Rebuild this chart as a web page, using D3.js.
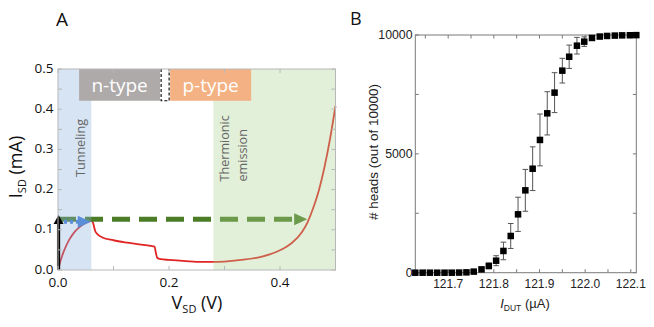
<!DOCTYPE html>
<html>
<head>
<meta charset="utf-8">
<script src="https://cdn.jsdelivr.net/npm/d3@7"></script>
<style>
  body { margin: 0; background: #fff; }
  svg { display: block; }
</style>
</head>
<body>
<script>
// panel A: I-V curve of the device
const curveV = [0, 0.005, 0.01, 0.02, 0.03, 0.04, 0.05, 0.06, 0.063, 0.067, 0.072, 0.08, 0.1, 0.125, 0.15, 0.174, 0.176, 0.179, 0.185, 0.2, 0.23, 0.26, 0.28, 0.3, 0.33, 0.36, 0.38, 0.4, 0.42, 0.44, 0.45, 0.46, 0.47, 0.48, 0.49, 0.5];
const curveI = [0, 0.025, 0.045, 0.075, 0.095, 0.108, 0.117, 0.122, 0.118, 0.097, 0.088, 0.081, 0.074, 0.068, 0.063, 0.058, 0.045, 0.03, 0.027, 0.025, 0.022, 0.02, 0.02, 0.021, 0.025, 0.031, 0.038, 0.049, 0.066, 0.095, 0.12, 0.155, 0.198, 0.255, 0.325, 0.408];

const regionStart = [0, 0.28];
const regionEnd = [0.06, 0.5];
const regionFill = ["#8ab2dd", "#acd192"];
const regionLabel = [["Tunneling"], ["Thermionic", "emission"]];

const typeLabels = ["n-type", "", "p-type"];
const typeStart = [0.038, 0.184, 0.202];
const typeEnd = [0.184, 0.202, 0.348];
const typeBottom = 0.421;

const greenArrow = { v0: 0, v1: 0.449, i: 0.126 };
const blueArrow = { v0: 0, v1: 0.059, i: 0.12 };
const blackArrow = { v: 0.001, i0: 0, i1: 0.137 };

const xTicksA = [0, 0.1, 0.2, 0.3, 0.4, 0.5];
const xLabelsA = [0, 0.2, 0.4];
const yTicksA = [0, 0.05, 0.1, 0.15, 0.2, 0.25, 0.3, 0.35, 0.4, 0.45, 0.5];
const yLabelsA = [0, 0.1, 0.2, 0.3, 0.4, 0.5];

// panel B: coin-flip statistics
const currentB = [121.628, 121.644, 121.660, 121.676, 121.692, 121.708, 121.724, 121.740, 121.756, 121.773, 121.789, 121.805, 121.821, 121.837, 121.853, 121.869, 121.885, 121.901, 121.917, 121.933, 121.950, 121.965, 121.982, 121.998, 122.015, 122.032, 122.048, 122.065, 122.081, 122.098, 122.112];
const headsB = [0, 0, 0, 0, 0, 0, 5, 15, 45, 140, 285, 505, 915, 1545, 2455, 3465, 4375, 5585, 6705, 7575, 8500, 9085, 9550, 9720, 9875, 9935, 9960, 9975, 9985, 9990, 9995];
const errB = [0, 0, 0, 0, 0, 0, 5, 10, 30, 60, 120, 210, 370, 525, 720, 880, 920, 1090, 910, 840, 520, 490, 350, 200, 80, 40, 20, 10, 5, 0, 0];

const xTicksB = [121.65, 121.7, 121.75, 121.8, 121.85, 121.9, 121.95, 122.0, 122.05, 122.1];
const xLabelsB = [121.7, 121.8, 121.9, 122.0, 122.1];
const yTicksB = [0, 2500, 5000, 7500, 10000];
const yLabelsB = [0, 5000, 10000];

const W = 654, H = 327;
const fontA = "'Open Sans', sans-serif";
const fontB = "'Liberation Sans', Arial, sans-serif";

const svg = d3.select("body").append("svg")
    .attr("width", W)
    .attr("height", H);

// ---------- panel A ----------
const xA = d3.scaleLinear().domain([0, 0.5]).range([58, 335.5]);
const yA = d3.scaleLinear().domain([0, 0.5]).range([270, 69]);
const gA = svg.append("g");

const line = d3.line()
    .x((d, i) => xA(curveV[i]))
    .y(d => yA(d))
    .curve(d3.curveMonotoneX);

gA.append("path")
    .attr("d", line(curveI))
    .attr("fill", "none")
    .attr("stroke", "#e02424")
    .attr("stroke-width", 1.8);

// green dashed arrow
const gy = yA(greenArrow.i);
gA.append("line")
    .attr("x1", xA(greenArrow.v0)).attr("x2", xA(greenArrow.v1) - 10)
    .attr("y1", gy).attr("y2", gy)
    .attr("stroke", "#4a7d26")
    .attr("stroke-width", 5)
    .attr("stroke-dasharray", "18,9");
gA.append("path")
    .attr("d", `M${xA(greenArrow.v1)},${gy} L${xA(greenArrow.v1) - 13},${gy - 6} L${xA(greenArrow.v1) - 13},${gy + 6} Z`)
    .attr("fill", "#4a7d26");

// shaded regions drawn over the curve
gA.selectAll("rect.region")
    .data(regionStart)
    .enter()
    .append("rect")
    .attr("class", "region")
    .attr("x", d => xA(d))
    .attr("y", yA(0.5))
    .attr("width", (d, i) => xA(regionEnd[i]) - xA(d))
    .attr("height", yA(0) - yA(0.5))
    .attr("fill", (d, i) => regionFill[i])
    .attr("opacity", 0.35);

// blue dotted arrow
const by = yA(blueArrow.i);
gA.append("line")
    .attr("x1", xA(blueArrow.v0)).attr("x2", xA(blueArrow.v1) - 11)
    .attr("y1", by).attr("y2", by)
    .attr("stroke", "#5b8ed8")
    .attr("stroke-width", 4)
    .attr("stroke-dasharray", "3,3");
gA.append("path")
    .attr("d", `M${xA(blueArrow.v1)},${by} L${xA(blueArrow.v1) - 13},${by - 6} L${xA(blueArrow.v1) - 13},${by + 6} Z`)
    .attr("fill", "#5b8ed8");

// black arrow
const bx = xA(blackArrow.v);
gA.append("line")
    .attr("x1", bx).attr("x2", bx)
    .attr("y1", yA(blackArrow.i0)).attr("y2", yA(blackArrow.i1) + 8)
    .attr("stroke", "#000")
    .attr("stroke-width", 3.2);
gA.append("path")
    .attr("d", `M${bx},${yA(blackArrow.i1)} L${bx - 5},${yA(blackArrow.i1) + 9} L${bx + 5},${yA(blackArrow.i1) + 9} Z`)
    .attr("fill", "#000");

// region labels
regionLabel.forEach((lines, k) => {
    const cx = k === 0 ? 80 : 224;
    const y0 = k === 0 ? 177 : 181.5;
    lines.forEach((t, j) => {
        gA.append("text")
            .attr("transform", `translate(${cx + 4.5 + j * 18},${y0}) rotate(-90)`)
            .attr("font-family", fontA)
            .attr("font-size", 12.6)
            .attr("fill", "#666")
            .text(t);
    });
});

// n-type / p-type boxes
const typeFill = ["#aeaaaa", "#fff", "#f4b183"];
typeLabels.forEach((t, i) => {
    const x0 = xA(typeStart[i]), x1 = xA(typeEnd[i]);
    const y0 = yA(0.5), y1 = yA(typeBottom);
    gA.append("rect")
        .attr("x", x0).attr("y", y0)
        .attr("width", x1 - x0).attr("height", y1 - y0)
        .attr("fill", typeFill[i]);
    if (t) {
        gA.append("text")
            .attr("x", (x0 + x1) / 2).attr("y", y0 + 22.5)
            .attr("text-anchor", "middle")
            .attr("font-family", fontA)
            .attr("font-size", 19)
            .attr("fill", "#fff")
            .text(t);
    } else {
        gA.append("path")
            .attr("d", `M${x0 + 1},${y0} V${y1} H${x1 - 1} V${y0}`)
            .attr("fill", "none")
            .attr("stroke", "#000")
            .attr("stroke-width", 1.1)
            .attr("stroke-dasharray", "3,2");
    }
});

// frame and ticks
const frameA = "#b8b8b8";
gA.append("rect")
    .attr("x", xA(0)).attr("y", yA(0.5))
    .attr("width", xA(0.5) - xA(0)).attr("height", yA(0) - yA(0.5))
    .attr("fill", "none")
    .attr("stroke", frameA);
xTicksA.forEach(v => {
    gA.append("line").attr("x1", xA(v)).attr("x2", xA(v)).attr("y1", yA(0)).attr("y2", yA(0) - 4).attr("stroke", frameA);
    gA.append("line").attr("x1", xA(v)).attr("x2", xA(v)).attr("y1", yA(0.5)).attr("y2", yA(0.5) + 4).attr("stroke", frameA);
});
yTicksA.forEach(v => {
    gA.append("line").attr("x1", xA(0)).attr("x2", xA(0) + 4).attr("y1", yA(v)).attr("y2", yA(v)).attr("stroke", frameA);
    gA.append("line").attr("x1", xA(0.5)).attr("x2", xA(0.5) - 4).attr("y1", yA(v)).attr("y2", yA(v)).attr("stroke", frameA);
});
gA.selectAll("text.xl")
    .data(xLabelsA).enter().append("text")
    .attr("x", d => xA(d)).attr("y", 287)
    .attr("text-anchor", "middle")
    .attr("font-family", fontA).attr("font-size", 13.5)
    .attr("fill", "#111")
    .text(d3.format(".1f"));
gA.selectAll("text.yl")
    .data(yLabelsA).enter().append("text")
    .attr("x", 53.5).attr("y", d => yA(d) + 3.5)
    .attr("text-anchor", "end")
    .attr("font-family", fontA).attr("font-size", 13.5)
    .attr("fill", "#111")
    .text(d3.format(".1f"));

const xt = gA.append("text")
    .attr("x", 197).attr("y", 309)
    .attr("text-anchor", "middle")
    .attr("font-family", fontA).attr("font-size", 18)
    .attr("fill", "#111");
xt.append("tspan").text("V");
xt.append("tspan").attr("font-size", 11).attr("dy", 4).text("SD");
xt.append("tspan").attr("dy", -4).text(" (V)");

const yt = gA.append("text")
    .attr("transform", "translate(22,167) rotate(-90)")
    .attr("text-anchor", "middle")
    .attr("font-family", fontA).attr("font-size", 18)
    .attr("fill", "#111");
yt.append("tspan").text("I");
yt.append("tspan").attr("font-size", 11).attr("dy", 4).text("SD");
yt.append("tspan").attr("dy", -4).text(" (mA)");

svg.append("text")
    .attr("x", 56).attr("y", 26)
    .attr("font-family", fontA).attr("font-size", 19)
    .attr("fill", "#111")
    .text("A");

// ---------- panel B ----------
const xB = d3.scaleLinear().domain([121.628, 122.112]).range([415.3, 636.3]);
const yB = d3.scaleLinear().domain([0, 10000]).range([272.7, 35]);
const gB = svg.append("g");
const frameB = "#7a7a7a";

gB.append("rect")
    .attr("x", xB.range()[0]).attr("y", yB.range()[1])
    .attr("width", xB.range()[1] - xB.range()[0])
    .attr("height", yB.range()[0] - yB.range()[1])
    .attr("fill", "none")
    .attr("stroke", frameB);
xTicksB.forEach(v => {
    gB.append("line").attr("x1", xB(v)).attr("x2", xB(v)).attr("y1", yB(0)).attr("y2", yB(0) - 3.5).attr("stroke", frameB);
    gB.append("line").attr("x1", xB(v)).attr("x2", xB(v)).attr("y1", yB(10000)).attr("y2", yB(10000) + 3.5).attr("stroke", frameB);
});
yTicksB.forEach(v => {
    gB.append("line").attr("x1", xB.range()[0]).attr("x2", xB.range()[0] + 3.5).attr("y1", yB(v)).attr("y2", yB(v)).attr("stroke", frameB);
    gB.append("line").attr("x1", xB.range()[1]).attr("x2", xB.range()[1] - 3.5).attr("y1", yB(v)).attr("y2", yB(v)).attr("stroke", frameB);
});

// error bars
const bars = gB.selectAll("g.err")
    .data(currentB)
    .enter()
    .append("g")
    .attr("class", "err");
bars.filter((d, i) => errB[i] > 0).each(function (d) {
    const i = currentB.indexOf(d);
    const g = d3.select(this);
    const x = xB(d), y0 = yB(headsB[i] - errB[i]), y1 = yB(headsB[i] + errB[i]);
    g.append("line").attr("x1", x).attr("x2", x).attr("y1", y0).attr("y2", y1).attr("stroke", "#555");
    g.append("line").attr("x1", x - 2.8).attr("x2", x + 2.8).attr("y1", y0).attr("y2", y0).attr("stroke", "#555");
    g.append("line").attr("x1", x - 2.8).attr("x2", x + 2.8).attr("y1", y1).attr("y2", y1).attr("stroke", "#555");
});

const sq = 6.5;
gB.selectAll("rect.pt")
    .data(currentB)
    .enter()
    .append("rect")
    .attr("class", "pt")
    .attr("x", d => xB(d) - sq / 2)
    .attr("y", (d, i) => yB(headsB[i]) - sq / 2)
    .attr("width", sq).attr("height", sq)
    .attr("fill", "#000");

gB.selectAll("text.xl")
    .data(xLabelsB).enter().append("text")
    .attr("x", d => xB(d)).attr("y", 288)
    .attr("text-anchor", "middle")
    .attr("font-family", fontB).attr("font-size", 12)
    .attr("fill", "#222")
    .text(d3.format(".1f"));
gB.selectAll("text.yl")
    .data(yLabelsB).enter().append("text")
    .attr("x", 412.5).attr("y", d => yB(d) + 4.3)
    .attr("text-anchor", "end")
    .attr("font-family", fontB).attr("font-size", 12.3)
    .attr("fill", "#222")
    .text(d => d);

const xtB = gB.append("text")
    .attr("x", 525).attr("y", 308)
    .attr("text-anchor", "middle")
    .attr("font-family", fontB).attr("font-size", 13)
    .attr("fill", "#222");
xtB.append("tspan").attr("font-style", "italic").text("I");
xtB.append("tspan").attr("font-size", 8.5).attr("dy", 3).text("DUT");
xtB.append("tspan").attr("dy", -3).text(" (\u00b5A)");

gB.append("text")
    .attr("transform", "translate(378,152) rotate(-90)")
    .attr("text-anchor", "middle")
    .attr("font-family", fontB).attr("font-size", 13.5)
    .attr("fill", "#222")
    .text("# heads (out of 10000)");

svg.append("text")
    .attr("x", 350).attr("y", 25)
    .attr("font-family", fontA).attr("font-size", 18)
    .attr("fill", "#111")
    .text("B");
</script>
</body>
</html>
